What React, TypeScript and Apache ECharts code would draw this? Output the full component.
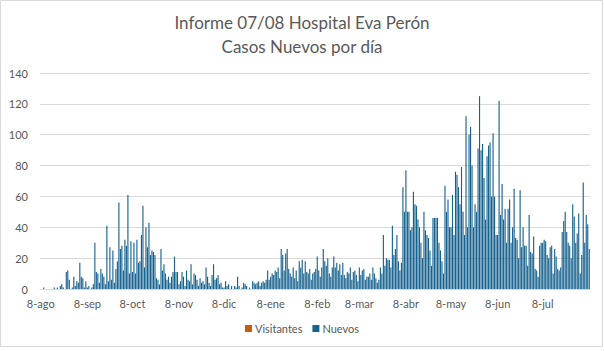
import React, { useEffect, useRef } from "react";
import * as echarts from "echarts";

// Month names used for the day labels (d-mmm)
const monthNames = ["ene", "feb", "mar", "abr", "may", "jun", "jul", "ago", "sep", "oct", "nov", "dic"];

// Daily "Nuevos" values, one array per period from the 8th to the 7th of the next month
const nuevosAgo = [0, 0, 1, 0, 0, 0, 0, 0, 0, 1, 0, 1, 0, 2, 3, 1, 0, 11, 12, 6, 0, 1, 8, 2, 5, 4, 17, 8, 7, 1, 5];
const nuevosSep = [1, 2, 0, 1, 3, 30, 11, 10, 4, 13, 10, 8, 3, 41, 5, 27, 6, 25, 4, 13, 18, 56, 26, 28, 12, 32, 28, 61, 10, 31];
const nuevosOct = [11, 30, 10, 32, 17, 18, 35, 54, 14, 40, 27, 43, 22, 25, 24, 22, 7, 6, 3, 26, 12, 16, 10, 6, 8, 4, 8, 11, 21, 11, 11];
const nuevosNov = [3, 5, 11, 8, 2, 12, 6, 5, 16, 3, 10, 9, 6, 2, 7, 4, 5, 3, 14, 8, 4, 2, 9, 16, 6, 7, 9, 3, 4, 1];
const nuevosDic = [1, 5, 2, 3, 0, 2, 0, 2, 1, 8, 2, 0, 1, 4, 3, 2, 0, 1, 0, 5, 4, 3, 4, 5, 2, 4, 5, 4, 6, 12, 6];
const nuevosEne = [8, 10, 9, 12, 11, 14, 7, 26, 22, 12, 23, 26, 13, 10, 8, 14, 7, 12, 5, 18, 14, 19, 10, 18, 11, 10, 13, 6, 10, 11, 13];
const nuevosFeb = [21, 12, 8, 14, 26, 18, 15, 20, 10, 8, 14, 21, 14, 17, 12, 16, 9, 17, 9, 7, 11, 10, 14, 6, 11, 12, 9, 5];
const nuevosMar = [14, 9, 12, 13, 6, 8, 8, 10, 6, 14, 10, 7, 4, 6, 14, 10, 35, 15, 20, 19, 19, 14, 41, 22, 26, 35, 18, 12, 17, 66, 50];
const nuevosAbr = [77, 50, 50, 38, 40, 63, 55, 54, 45, 40, 30, 20, 50, 38, 35, 33, 25, 15, 46, 46, 46, 46, 30, 25, 18, 10, 67, 50, 58, 40];
const nuevosMay = [40, 61, 35, 76, 74, 66, 55, 79, 50, 35, 112, 40, 100, 105, 80, 40, 55, 50, 91, 125, 90, 94, 72, 45, 86, 93, 95, 60, 101, 60, 35];
const nuevosJun = [35, 122, 48, 68, 45, 52, 30, 52, 58, 30, 40, 65, 33, 32, 20, 64, 27, 40, 28, 28, 15, 48, 24, 23, 34, 13, 12, 8, 28, 30];
const nuevosJul = [30, 32, 31, 22, 20, 27, 28, 10, 26, 21, 13, 12, 14, 37, 44, 50, 37, 30, 28, 20, 55, 47, 30, 36, 49, 10, 22, 69, 30, 48, 42, 26];

// "Visitantes" has no visible bars in the reference
const visitantes: number[] = [];

const nuevos = [
  ...nuevosAgo, ...nuevosSep, ...nuevosOct, ...nuevosNov, ...nuevosDic, ...nuevosEne,
  ...nuevosFeb, ...nuevosMar, ...nuevosAbr, ...nuevosMay, ...nuevosJun, ...nuevosJul,
];

const startDate = new Date(2020, 7, 8);
const categories = nuevos.map((_, i) => {
  const d = new Date(startDate.getFullYear(), startDate.getMonth(), startDate.getDate() + i);
  return `${d.getDate()}-${monthNames[d.getMonth()]}`;
});

const FONT = "Lato, 'Open Sans', sans-serif";
const TEXT = "#595959";

export default function App() {
  const ref = useRef<HTMLDivElement>(null);
  useEffect(() => {
    if (!ref.current) return;
    const chart = echarts.init(ref.current, undefined, { renderer: "svg" });
    const lastIdx = categories.length - 1;
    chart.setOption({
      animation: false,
      backgroundColor: "#ffffff",
      textStyle: { fontFamily: FONT },
      title: {
        text: "Informe 07/08 Hospital Eva Perón\nCasos Nuevos por día",
        left: "center",
        top: 5,
        textStyle: { fontFamily: FONT, fontSize: 17, fontWeight: "normal", color: TEXT, lineHeight: 24 },
      },
      graphic: [
        {
          type: "rect",
          shape: { x: 0.5, y: 0.5, width: 602, height: 346 },
          style: { fill: "none", stroke: "#d9d9d9", lineWidth: 1 },
          silent: true,
        },
      ],
      legend: {
        bottom: 12,
        left: "center",
        itemWidth: 7,
        itemHeight: 7,
        itemGap: 10,
        icon: "rect",
        textStyle: { fontFamily: FONT, fontSize: 11, color: TEXT, padding: [0, 0, 0, -2] },
        data: ["Visitantes", "Nuevos"],
      },
      grid: { left: 40, right: 14, top: 73, bottom: 62, containLabel: false },
      xAxis: {
        type: "category",
        data: categories,
        boundaryGap: true,
        axisTick: { show: false },
        axisLine: { show: true, lineStyle: { color: "#d9d9d9" } },
        axisLabel: {
          interval: (i: number, v: string) => i !== lastIdx && v.startsWith("8-"),
          color: TEXT,
          fontSize: 11,
          fontFamily: FONT,
          margin: 9,
        },
      },
      yAxis: {
        type: "value",
        min: 0,
        max: 140,
        interval: 20,
        axisLine: { show: false },
        axisTick: { show: false },
        splitLine: { lineStyle: { color: "#d9d9d9" } },
        axisLabel: { color: TEXT, fontSize: 11, fontFamily: FONT, margin: 12 },
      },
      series: [
        {
          name: "Visitantes",
          type: "bar",
          stack: "total",
          data: visitantes,
          itemStyle: { color: "#c55a11" },
        },
        {
          name: "Nuevos",
          type: "bar",
          stack: "total",
          data: nuevos,
          barCategoryGap: "25%",
          itemStyle: { color: "#16628f" },
        },
      ],
    });
    return () => chart.dispose();
  }, []);
  return <div ref={ref} style={{ position: "fixed", left: 0, top: 0, width: 604, height: 351 }} />;
}
